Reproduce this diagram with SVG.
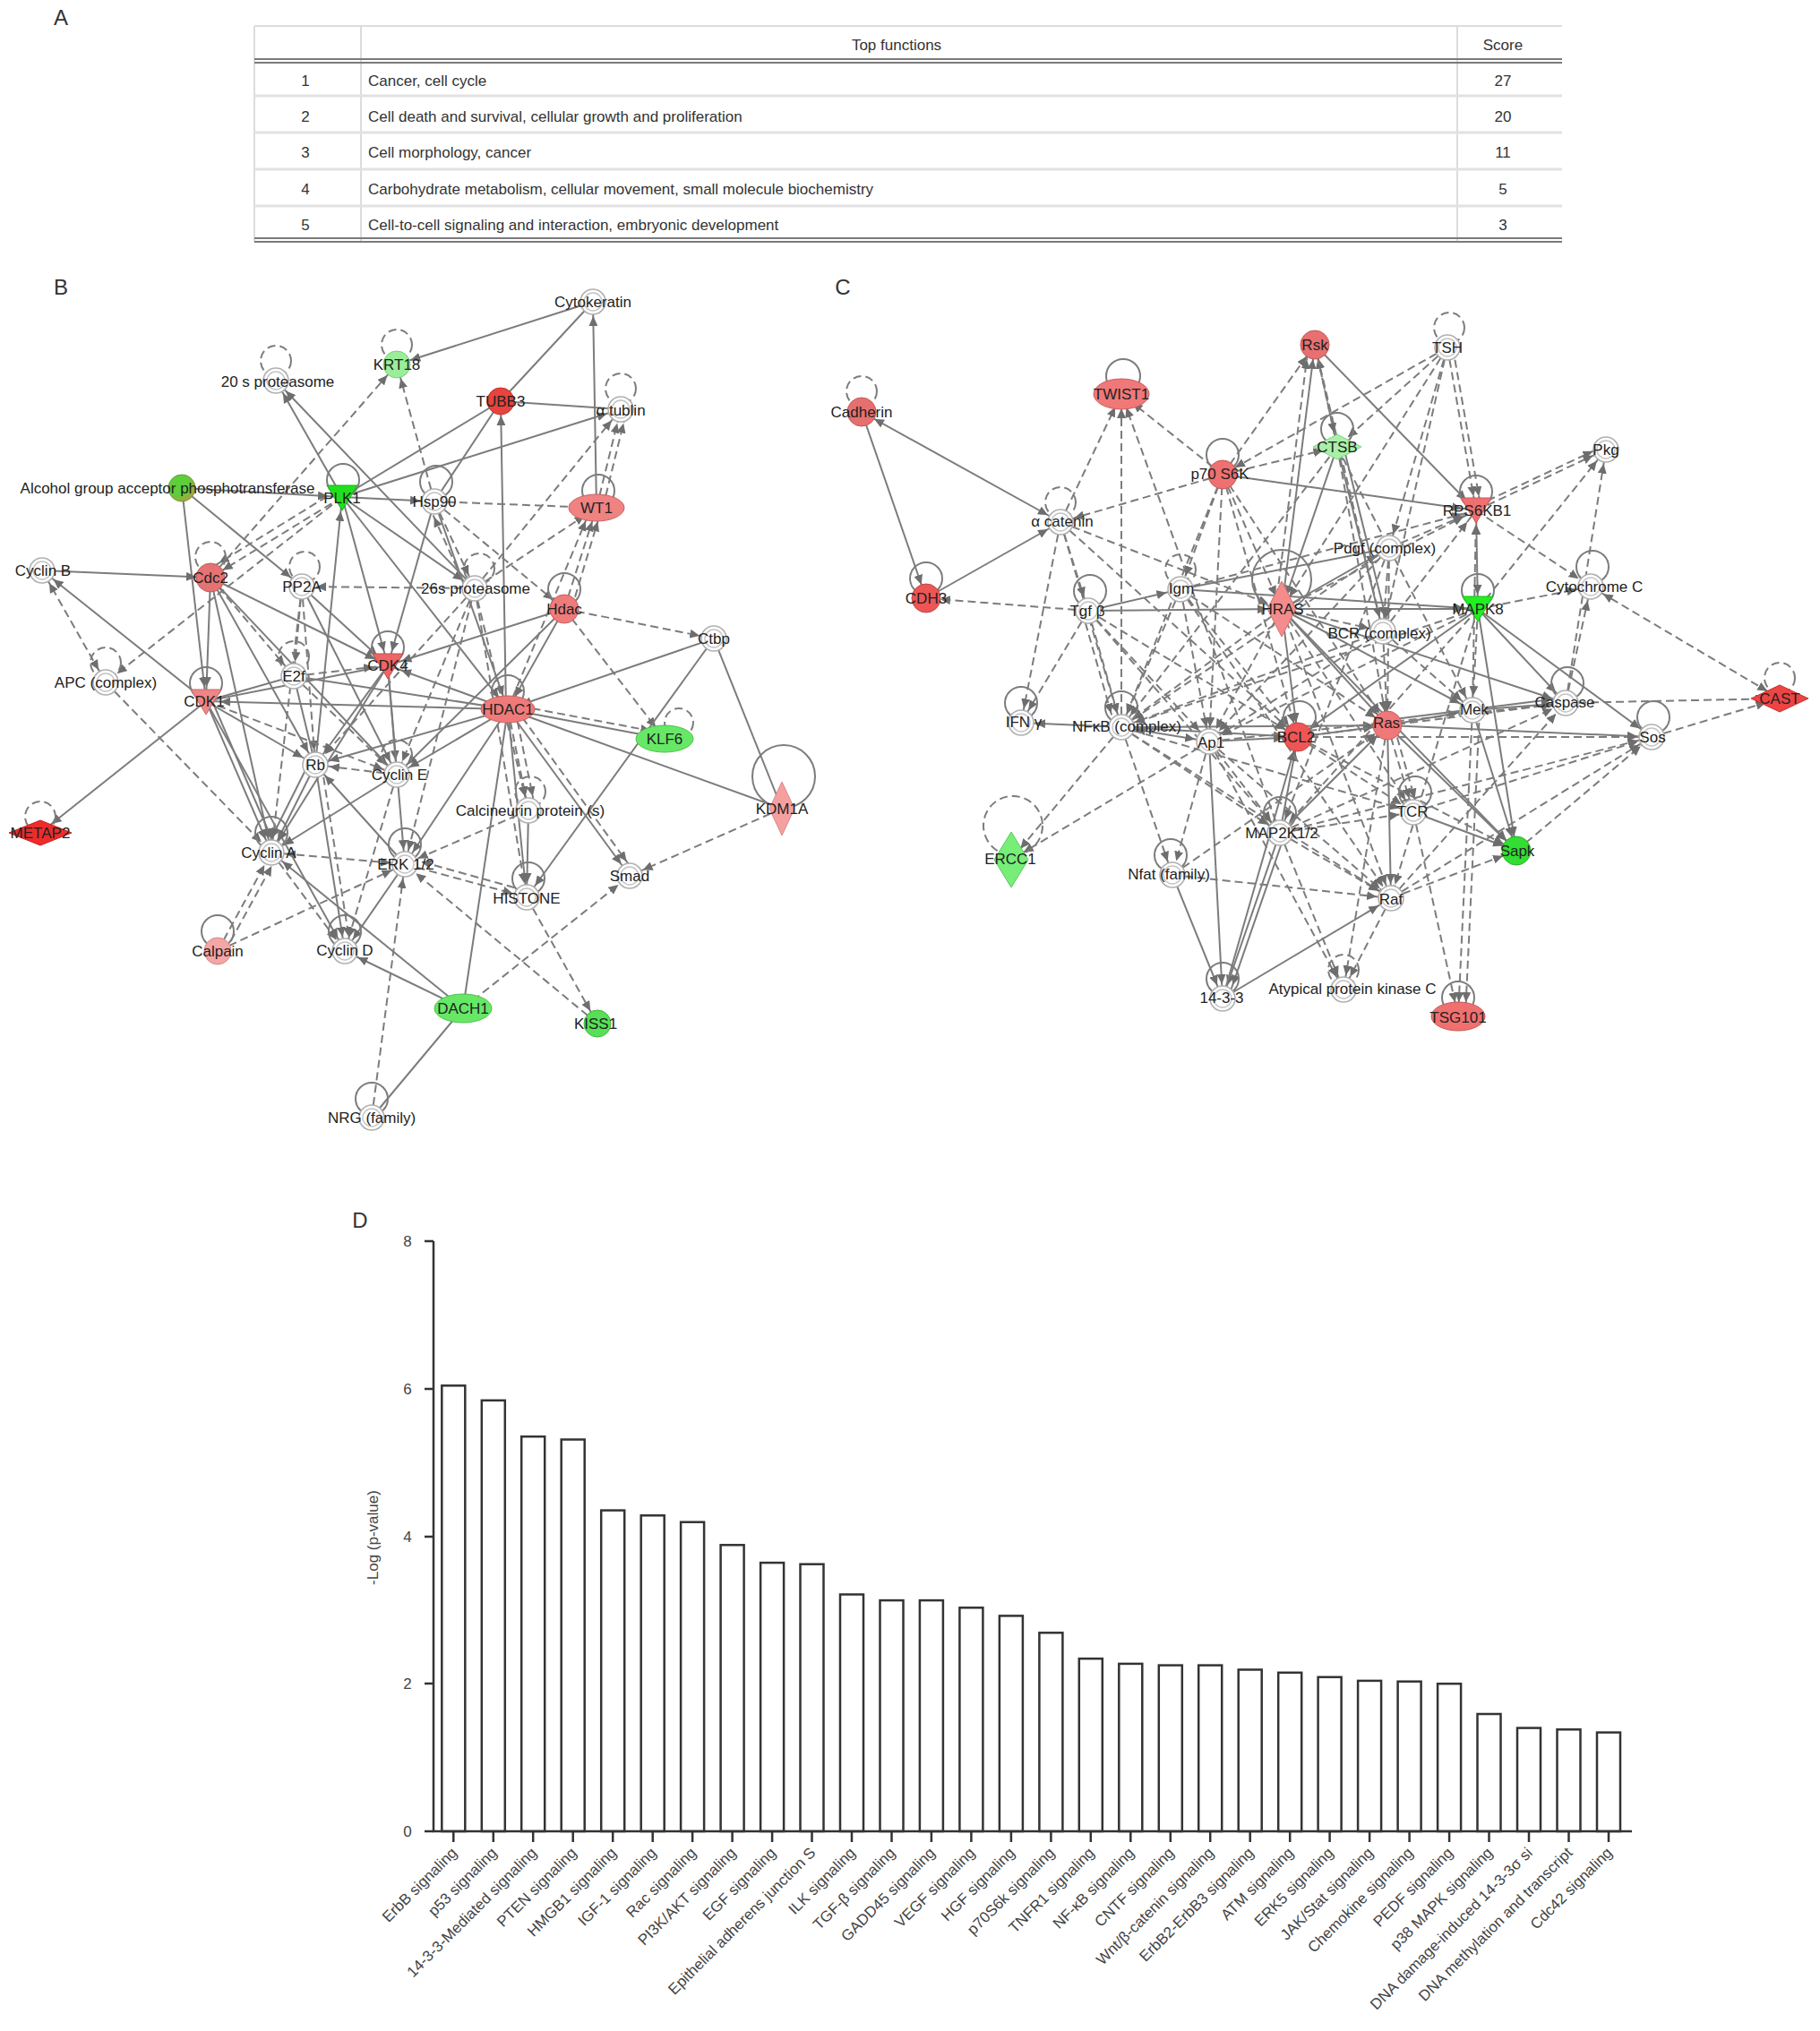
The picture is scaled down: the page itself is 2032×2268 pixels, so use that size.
<svg xmlns="http://www.w3.org/2000/svg" width="2032" height="2268" viewBox="0 0 2032 2268">
<style>
text{font-family:"Liberation Sans",Arial,sans-serif;fill:#222}
.pl{font-size:24px;text-anchor:middle;dominant-baseline:central;fill:#333}
.tb{font-size:17px;fill:#333}
.tc{text-anchor:middle}
.t{font-size:17px;text-anchor:middle;dominant-baseline:central}
.e line{stroke:#7c7c7c;stroke-width:2;fill:none}
.a{marker-end:url(#ar)}
.b{marker-end:url(#ar);marker-start:url(#ar)}
.d{stroke-dasharray:9 5}
.lp{fill:none;stroke:#7c7c7c;stroke-width:2}
.w{fill:#fff;stroke:#b0b0b0;stroke-width:1.6}
.wi{fill:none;stroke:#c4c4c4;stroke-width:1.4}
.bar{fill:#fff;stroke:#333;stroke-width:2.5}
.ax{stroke:#333;stroke-width:2.5;fill:none}
.cl{font-size:17px;fill:#444;text-anchor:end}
.tk{font-size:17px;fill:#444;text-anchor:middle;dominant-baseline:central}
</style>
<defs>
<marker id="ar" markerWidth="30" markerHeight="10" refX="27" refY="5" orient="auto-start-reverse" markerUnits="userSpaceOnUse"><path d="M0,0 L11,5 L0,10 z" fill="#6e6e6e"/></marker>
<radialGradient id="alc" cx="0.35" cy="0.35" r="0.75"><stop offset="0.55" stop-color="#5ccf3a"/><stop offset="1" stop-color="#c9913f"/></radialGradient>
</defs>
<rect width="2032" height="2268" fill="#fff"/>

<!-- Panel A table -->
<g id="panelA">
<text class="pl" x="68" y="19">A</text>
<line x1="284" y1="29" x2="1744" y2="29" stroke="#dcdcdc" stroke-width="2"/>
<line x1="284" y1="29" x2="284" y2="270" stroke="#dcdcdc" stroke-width="2"/>
<line x1="403" y1="29" x2="403" y2="270" stroke="#dcdcdc" stroke-width="2"/>
<line x1="1627" y1="29" x2="1627" y2="270" stroke="#dcdcdc" stroke-width="2"/>
<line x1="284" y1="66" x2="1744" y2="66" stroke="#7a7a7a" stroke-width="2"/>
<line x1="284" y1="70" x2="1744" y2="70" stroke="#7a7a7a" stroke-width="2"/>
<line x1="284" y1="107" x2="1744" y2="107" stroke="#e2e2e2" stroke-width="3"/>
<line x1="284" y1="148" x2="1744" y2="148" stroke="#e2e2e2" stroke-width="3"/>
<line x1="284" y1="189" x2="1744" y2="189" stroke="#e2e2e2" stroke-width="3"/>
<line x1="284" y1="230" x2="1744" y2="230" stroke="#e2e2e2" stroke-width="3"/>
<line x1="284" y1="266" x2="1744" y2="266" stroke="#7a7a7a" stroke-width="2"/>
<line x1="284" y1="270" x2="1744" y2="270" stroke="#7a7a7a" stroke-width="2"/>
<text class="tb tc" x="1001" y="56">Top functions</text>
<text class="tb tc" x="1678" y="56">Score</text>
<text class="tb tc" x="341" y="96">1</text><text class="tb" x="411" y="96">Cancer, cell cycle</text><text class="tb tc" x="1678" y="96">27</text>
<text class="tb tc" x="341" y="136">2</text><text class="tb" x="411" y="136">Cell death and survival, cellular growth and proliferation</text><text class="tb tc" x="1678" y="136">20</text>
<text class="tb tc" x="341" y="176">3</text><text class="tb" x="411" y="176">Cell morphology, cancer</text><text class="tb tc" x="1678" y="176">11</text>
<text class="tb tc" x="341" y="217">4</text><text class="tb" x="411" y="217">Carbohydrate metabolism, cellular movement, small molecule biochemistry</text><text class="tb tc" x="1678" y="217">5</text>
<text class="tb tc" x="341" y="257">5</text><text class="tb" x="411" y="257">Cell-to-cell signaling and interaction, embryonic development</text><text class="tb tc" x="1678" y="257">3</text>
</g>

<text class="pl" x="68" y="320">B</text>
<text class="pl" x="941" y="320">C</text>

<!-- Connectors B -->
<g id="connectorsB" class="e">
<line class="a" x1="662" y1="337" x2="443" y2="407"/>
<line x1="662" y1="337" x2="559" y2="448"/>
<line class="a" x1="666" y1="567" x2="662" y2="337"/>
<line x1="559" y1="448" x2="693" y2="457"/>
<line class="a" x1="565" y1="792" x2="559" y2="448"/>
<line x1="382" y1="555" x2="559" y2="448"/>
<line class="a" x1="382" y1="555" x2="693" y2="457"/>
<line x1="485" y1="560" x2="559" y2="448"/>
<line class="a" x1="382" y1="555" x2="308" y2="425"/>
<line class="a" x1="530" y1="657" x2="308" y2="425"/>
<line class="a" x1="203" y1="545" x2="382" y2="555"/>
<line class="a" x1="203" y1="545" x2="230" y2="783"/>
<line class="a" x1="203" y1="545" x2="337" y2="655"/>
<line class="a" x1="47" y1="637" x2="235" y2="645"/>
<line class="a" x1="230" y1="783" x2="47" y2="637"/>
<line class="b d" x1="118" y1="762" x2="47" y2="637"/>
<line class="a d" x1="382" y1="555" x2="118" y2="762"/>
<line class="a d" x1="382" y1="555" x2="235" y2="645"/>
<line class="a d" x1="377" y1="547" x2="231" y2="637"/>
<line class="a d" x1="235" y1="645" x2="443" y2="407"/>
<line class="a" x1="352" y1="854" x2="382" y2="555"/>
<line class="a" x1="382" y1="555" x2="433" y2="743"/>
<line class="a" x1="382" y1="555" x2="485" y2="560"/>
<line class="a" x1="382" y1="555" x2="530" y2="657"/>
<line class="a" x1="382" y1="555" x2="567" y2="792"/>
<line class="a" x1="235" y1="645" x2="230" y2="783"/>
<line class="a" x1="235" y1="645" x2="352" y2="854"/>
<line class="a" x1="235" y1="645" x2="303" y2="952"/>
<line class="a" x1="235" y1="645" x2="433" y2="743"/>
<line class="a d" x1="235" y1="645" x2="328" y2="755"/>
<line class="a" x1="235" y1="645" x2="443" y2="865"/>
<line class="a d" x1="530" y1="657" x2="337" y2="655"/>
<line class="a d" x1="337" y1="655" x2="328" y2="755"/>
<line class="a d" x1="337" y1="655" x2="352" y2="854"/>
<line class="a" x1="337" y1="655" x2="443" y2="865"/>
<line class="a" x1="337" y1="655" x2="433" y2="743"/>
<line class="a d" x1="485" y1="560" x2="666" y2="567"/>
<line class="a d" x1="485" y1="560" x2="530" y2="657"/>
<line class="a d" x1="522" y1="660" x2="478" y2="563"/>
<line class="a d" x1="485" y1="560" x2="443" y2="407"/>
<line class="a" x1="485" y1="560" x2="433" y2="743"/>
<line class="a" x1="485" y1="560" x2="567" y2="792"/>
<line class="a d" x1="530" y1="657" x2="666" y2="567"/>
<line class="a d" x1="530" y1="657" x2="693" y2="457"/>
<line class="a d" x1="630" y1="680" x2="666" y2="567"/>
<line class="a d" x1="638" y1="680" x2="672" y2="567"/>
<line class="a d" x1="567" y1="792" x2="660" y2="567"/>
<line class="a d" x1="630" y1="680" x2="797" y2="713"/>
<line class="a d" x1="485" y1="560" x2="630" y2="680"/>
<line class="a" x1="630" y1="680" x2="567" y2="792"/>
<line class="a" x1="630" y1="680" x2="433" y2="743"/>
<line class="a d" x1="630" y1="680" x2="742" y2="825"/>
<line class="a" x1="797" y1="713" x2="567" y2="792"/>
<line x1="797" y1="713" x2="873" y2="903"/>
<line class="a" x1="797" y1="713" x2="588" y2="1002"/>
<line class="a" x1="567" y1="792" x2="742" y2="825"/>
<line class="a d" x1="567" y1="786" x2="742" y2="819"/>
<line x1="567" y1="792" x2="873" y2="903"/>
<line class="a d" x1="567" y1="792" x2="590" y2="905"/>
<line class="a d" x1="575" y1="792" x2="598" y2="905"/>
<line class="a" x1="567" y1="792" x2="588" y2="1002"/>
<line class="a" x1="567" y1="792" x2="703" y2="978"/>
<line class="a d" x1="575" y1="790" x2="709" y2="975"/>
<line x1="567" y1="792" x2="517" y2="1126"/>
<line class="a" x1="567" y1="792" x2="452" y2="965"/>
<line class="a" x1="567" y1="792" x2="230" y2="783"/>
<line class="a" x1="567" y1="792" x2="352" y2="854"/>
<line class="a" x1="567" y1="792" x2="443" y2="865"/>
<line class="a" x1="567" y1="792" x2="433" y2="743"/>
<line x1="567" y1="792" x2="328" y2="755"/>
<line class="a d" x1="873" y1="903" x2="703" y2="978"/>
<line class="a d" x1="590" y1="905" x2="452" y2="965"/>
<line class="a" x1="590" y1="905" x2="588" y2="1002"/>
<line class="a d" x1="452" y1="965" x2="588" y2="1002"/>
<line class="a d" x1="588" y1="995" x2="455" y2="958"/>
<line class="a d" x1="667" y1="1143" x2="452" y2="965"/>
<line class="a d" x1="588" y1="1002" x2="667" y2="1143"/>
<line class="a d" x1="517" y1="1126" x2="703" y2="978"/>
<line x1="517" y1="1126" x2="415" y2="1248"/>
<line class="a" x1="517" y1="1126" x2="303" y2="952"/>
<line class="a" x1="517" y1="1126" x2="385" y2="1062"/>
<line class="a d" x1="415" y1="1248" x2="452" y2="965"/>
<line class="a d" x1="243" y1="1062" x2="303" y2="952"/>
<line class="a d" x1="251" y1="1063" x2="311" y2="953"/>
<line class="a d" x1="243" y1="1062" x2="452" y2="965"/>
<line class="a" x1="230" y1="783" x2="303" y2="952"/>
<line class="a" x1="237" y1="783" x2="310" y2="952"/>
<line class="a" x1="352" y1="854" x2="303" y2="952"/>
<line class="a" x1="345" y1="852" x2="296" y2="950"/>
<line class="a" x1="443" y1="865" x2="303" y2="952"/>
<line class="b d" x1="303" y1="952" x2="452" y2="965"/>
<line class="a d" x1="118" y1="762" x2="303" y2="952"/>
<line class="a" x1="230" y1="783" x2="45" y2="930"/>
<line class="a" x1="230" y1="783" x2="352" y2="854"/>
<line class="a d" x1="230" y1="783" x2="443" y2="865"/>
<line class="a" x1="230" y1="783" x2="385" y2="1062"/>
<line x1="230" y1="783" x2="328" y2="755"/>
<line x1="230" y1="783" x2="433" y2="743"/>
<line class="a d" x1="443" y1="865" x2="352" y2="854"/>
<line class="a" x1="452" y1="965" x2="352" y2="854"/>
<line class="a" x1="352" y1="854" x2="385" y2="1062"/>
<line class="a d" x1="359" y1="854" x2="392" y2="1062"/>
<line class="a" x1="452" y1="965" x2="385" y2="1062"/>
<line class="a d" x1="443" y1="865" x2="385" y2="1062"/>
<line x1="328" y1="755" x2="352" y2="854"/>
<line class="a d" x1="328" y1="755" x2="433" y2="743"/>
<line class="a d" x1="328" y1="755" x2="443" y2="865"/>
<line class="a" x1="433" y1="743" x2="352" y2="854"/>
<line class="a" x1="433" y1="743" x2="443" y2="865"/>
<line class="a" x1="433" y1="743" x2="303" y2="952"/>
<line class="a" x1="433" y1="743" x2="452" y2="965"/>
<line class="a d" x1="530" y1="657" x2="352" y2="854"/>
<line class="a d" x1="530" y1="657" x2="443" y2="865"/>
<line class="a d" x1="530" y1="657" x2="452" y2="965"/>
<line class="a d" x1="530" y1="657" x2="588" y2="1002"/>
<line class="a d" x1="530" y1="657" x2="590" y2="905"/>
<line class="a d" x1="666" y1="567" x2="693" y2="457"/>
<line class="a d" x1="673" y1="567" x2="700" y2="457"/>
<line class="a d" x1="303" y1="952" x2="385" y2="1062"/>
<line class="a" x1="630" y1="680" x2="443" y2="865"/>
<line class="a d" x1="337" y1="655" x2="303" y2="952"/>
</g>

<!-- Connectors C -->
<g id="connectorsC" class="e">
<line class="b" x1="962" y1="460" x2="1184" y2="583"/>
<line class="a" x1="962" y1="460" x2="1034" y2="668"/>
<line class="a" x1="1034" y1="668" x2="1184" y2="583"/>
<line class="a d" x1="1215" y1="682" x2="1034" y2="668"/>
<line class="a d" x1="1184" y1="583" x2="1252" y2="440"/>
<line class="a d" x1="1252" y1="812" x2="1252" y2="440"/>
<line class="a d" x1="1429" y1="930" x2="1252" y2="440"/>
<line class="a d" x1="1365" y1="530" x2="1252" y2="440"/>
<line class="a" x1="1468" y1="385" x2="1648" y2="570"/>
<line class="a" x1="1431" y1="680" x2="1468" y2="385"/>
<line class="a d" x1="1365" y1="530" x2="1468" y2="385"/>
<line class="a d" x1="1493" y1="499" x2="1468" y2="385"/>
<line class="a d" x1="1544" y1="705" x2="1468" y2="385"/>
<line class="a d" x1="1424" y1="680" x2="1461" y2="385"/>
<line class="a d" x1="1616" y1="388" x2="1493" y2="499"/>
<line class="a d" x1="1616" y1="388" x2="1648" y2="570"/>
<line class="a d" x1="1622" y1="388" x2="1654" y2="570"/>
<line class="a d" x1="1616" y1="388" x2="1431" y2="680"/>
<line class="a d" x1="1616" y1="388" x2="1551" y2="612"/>
<line class="a d" x1="1616" y1="388" x2="1365" y2="530"/>
<line class="b" x1="1648" y1="570" x2="1650" y2="680"/>
<line class="a d" x1="1648" y1="570" x2="1793" y2="502"/>
<line class="a d" x1="1648" y1="565" x2="1793" y2="497"/>
<line class="a d" x1="1648" y1="570" x2="1776" y2="655"/>
<line class="a" x1="1365" y1="530" x2="1648" y2="570"/>
<line class="a d" x1="1431" y1="680" x2="1648" y2="570"/>
<line class="a d" x1="1551" y1="612" x2="1648" y2="570"/>
<line class="a d" x1="1544" y1="705" x2="1648" y2="570"/>
<line class="a d" x1="1318" y1="658" x2="1648" y2="570"/>
<line class="a d" x1="1644" y1="793" x2="1648" y2="570"/>
<line class="a d" x1="1650" y1="680" x2="1793" y2="502"/>
<line class="a d" x1="1748" y1="785" x2="1793" y2="502"/>
<line class="a d" x1="1650" y1="680" x2="1776" y2="655"/>
<line class="a d" x1="1748" y1="785" x2="1776" y2="655"/>
<line class="b d" x1="1987" y1="780" x2="1776" y2="655"/>
<line class="a" x1="1431" y1="680" x2="1650" y2="680"/>
<line class="a" x1="1215" y1="682" x2="1318" y2="658"/>
<line class="a" x1="1215" y1="682" x2="1431" y2="680"/>
<line x1="1318" y1="658" x2="1551" y2="612"/>
<line class="a" x1="1318" y1="658" x2="1650" y2="680"/>
<line class="a" x1="1431" y1="680" x2="1551" y2="612"/>
<line class="a d" x1="1431" y1="680" x2="1544" y2="705"/>
<line class="a" x1="1252" y1="812" x2="1140" y2="807"/>
<line class="b" x1="1252" y1="812" x2="1350" y2="828"/>
<line class="a" x1="1252" y1="812" x2="1449" y2="823"/>
<line class="a" x1="1252" y1="812" x2="1549" y2="810"/>
<line class="a d" x1="1252" y1="812" x2="1129" y2="960"/>
<line class="a d" x1="1350" y1="828" x2="1129" y2="960"/>
<line class="a d" x1="1215" y1="682" x2="1252" y2="812"/>
<line class="a d" x1="1208" y1="682" x2="1245" y2="812"/>
<line class="a d" x1="1318" y1="658" x2="1252" y2="812"/>
<line class="a d" x1="1431" y1="680" x2="1252" y2="812"/>
<line class="a d" x1="1184" y1="583" x2="1252" y2="812"/>
<line class="a d" x1="1252" y1="812" x2="1309" y2="977"/>
<line class="a d" x1="1252" y1="812" x2="1429" y2="930"/>
<line class="a d" x1="1252" y1="812" x2="1578" y2="907"/>
<line class="a d" x1="1252" y1="812" x2="1553" y2="1003"/>
<line class="a" x1="1350" y1="828" x2="1449" y2="823"/>
<line class="a" x1="1350" y1="828" x2="1365" y2="1115"/>
<line class="a d" x1="1350" y1="828" x2="1309" y2="977"/>
<line class="a d" x1="1350" y1="828" x2="1429" y2="930"/>
<line class="a d" x1="1350" y1="828" x2="1500" y2="1105"/>
<line class="a" x1="1449" y1="823" x2="1549" y2="810"/>
<line class="a" x1="1431" y1="680" x2="1449" y2="823"/>
<line class="a" x1="1429" y1="930" x2="1449" y2="823"/>
<line class="a d" x1="1449" y1="823" x2="1578" y2="907"/>
<line class="a d" x1="1449" y1="823" x2="1844" y2="823"/>
<line class="a" x1="1549" y1="810" x2="1644" y2="793"/>
<line class="a" x1="1549" y1="810" x2="1844" y2="823"/>
<line class="a" x1="1644" y1="793" x2="1748" y2="785"/>
<line class="a" x1="1549" y1="804" x2="1748" y2="779"/>
<line class="a d" x1="1748" y1="785" x2="1987" y2="780"/>
<line class="a d" x1="1844" y1="823" x2="1987" y2="780"/>
<line class="a" x1="1644" y1="793" x2="1693" y2="950"/>
<line class="a" x1="1549" y1="810" x2="1693" y2="950"/>
<line class="a" x1="1549" y1="810" x2="1553" y2="1003"/>
<line class="a d" x1="1549" y1="810" x2="1578" y2="907"/>
<line class="a d" x1="1556" y1="810" x2="1584" y2="907"/>
<line class="a" x1="1578" y1="907" x2="1693" y2="950"/>
<line class="a d" x1="1578" y1="907" x2="1628" y2="1135"/>
<line class="a d" x1="1553" y1="1003" x2="1693" y2="950"/>
<line class="a d" x1="1553" y1="1003" x2="1844" y2="823"/>
<line class="a d" x1="1693" y1="950" x2="1844" y2="823"/>
<line class="a d" x1="1429" y1="930" x2="1844" y2="823"/>
<line class="a" x1="1650" y1="680" x2="1748" y2="785"/>
<line class="a" x1="1650" y1="680" x2="1693" y2="950"/>
<line class="a d" x1="1650" y1="680" x2="1644" y2="793"/>
<line class="a" x1="1650" y1="680" x2="1844" y2="823"/>
<line class="a" x1="1431" y1="680" x2="1748" y2="785"/>
<line class="a" x1="1431" y1="680" x2="1549" y2="810"/>
<line class="a" x1="1431" y1="680" x2="1644" y2="793"/>
<line class="a d" x1="1431" y1="680" x2="1578" y2="907"/>
<line class="a d" x1="1431" y1="680" x2="1553" y2="1003"/>
<line class="a" x1="1431" y1="680" x2="1693" y2="950"/>
<line class="a d" x1="1429" y1="930" x2="1553" y2="1003"/>
<line class="a" x1="1429" y1="930" x2="1365" y2="1115"/>
<line class="a" x1="1435" y1="930" x2="1371" y2="1115"/>
<line class="a d" x1="1429" y1="930" x2="1500" y2="1105"/>
<line class="a" x1="1309" y1="977" x2="1365" y2="1115"/>
<line class="a" x1="1365" y1="1115" x2="1553" y2="1003"/>
<line class="a" x1="1365" y1="1115" x2="1449" y2="823"/>
<line class="a d" x1="1553" y1="1003" x2="1500" y2="1105"/>
<line class="a d" x1="1644" y1="793" x2="1628" y2="1135"/>
<line class="a d" x1="1652" y1="793" x2="1636" y2="1135"/>
<line class="a d" x1="1431" y1="680" x2="1350" y2="828"/>
<line class="a d" x1="1318" y1="658" x2="1350" y2="828"/>
<line class="a d" x1="1215" y1="682" x2="1350" y2="828"/>
<line class="a d" x1="1318" y1="658" x2="1449" y2="823"/>
<line class="a d" x1="1318" y1="658" x2="1549" y2="810"/>
<line class="a d" x1="1318" y1="658" x2="1553" y2="1003"/>
<line class="a d" x1="1215" y1="682" x2="1429" y2="930"/>
<line class="a d" x1="1215" y1="682" x2="1449" y2="823"/>
<line class="a d" x1="1184" y1="583" x2="1215" y2="682"/>
<line class="a d" x1="1184" y1="583" x2="1431" y2="680"/>
<line class="a d" x1="1184" y1="583" x2="1449" y2="823"/>
<line class="a d" x1="1365" y1="530" x2="1318" y2="658"/>
<line class="a d" x1="1365" y1="530" x2="1252" y2="812"/>
<line class="a d" x1="1365" y1="530" x2="1431" y2="680"/>
<line class="a d" x1="1365" y1="530" x2="1350" y2="828"/>
<line class="a d" x1="1365" y1="530" x2="1449" y2="823"/>
<line class="a d" x1="1365" y1="530" x2="1549" y2="810"/>
<line class="a d" x1="1365" y1="530" x2="1184" y2="583"/>
<line class="a d" x1="1365" y1="530" x2="1493" y2="499"/>
<line class="a d" x1="1551" y1="612" x2="1544" y2="705"/>
<line class="a d" x1="1551" y1="612" x2="1350" y2="828"/>
<line class="a d" x1="1551" y1="612" x2="1549" y2="810"/>
<line class="a d" x1="1551" y1="612" x2="1429" y2="930"/>
<line class="a d" x1="1551" y1="612" x2="1252" y2="812"/>
<line class="a d" x1="1544" y1="705" x2="1549" y2="810"/>
<line class="a d" x1="1544" y1="705" x2="1350" y2="828"/>
<line class="a d" x1="1544" y1="705" x2="1252" y2="812"/>
<line class="a d" x1="1544" y1="705" x2="1644" y2="793"/>
<line class="a" x1="1493" y1="499" x2="1431" y2="680"/>
<line class="a" x1="1493" y1="499" x2="1544" y2="705"/>
<line class="a" x1="1500" y1="499" x2="1551" y2="705"/>
<line class="a d" x1="1493" y1="499" x2="1549" y2="810"/>
<line class="a d" x1="1493" y1="499" x2="1252" y2="812"/>
<line class="a d" x1="1468" y1="385" x2="1493" y2="499"/>
<line class="a d" x1="1650" y1="680" x2="1350" y2="828"/>
<line class="a d" x1="1650" y1="680" x2="1252" y2="812"/>
<line class="a" x1="1650" y1="680" x2="1449" y2="823"/>
<line class="a d" x1="1650" y1="680" x2="1429" y2="930"/>
<line class="a d" x1="1650" y1="680" x2="1553" y2="1003"/>
<line class="a d" x1="1215" y1="682" x2="1140" y2="807"/>
<line class="a d" x1="1184" y1="583" x2="1140" y2="807"/>
<line class="a d" x1="1553" y1="1003" x2="1748" y2="785"/>
<line class="a d" x1="1429" y1="930" x2="1748" y2="785"/>
<line class="a d" x1="1449" y1="823" x2="1748" y2="785"/>
<line class="a d" x1="1350" y1="828" x2="1748" y2="785"/>
<line class="a" x1="1429" y1="930" x2="1549" y2="810"/>
<line class="a d" x1="1429" y1="930" x2="1578" y2="907"/>
<line class="a d" x1="1578" y1="907" x2="1844" y2="823"/>
<line class="a d" x1="1449" y1="823" x2="1693" y2="950"/>
<line class="a d" x1="1350" y1="828" x2="1553" y2="1003"/>
<line class="a d" x1="1309" y1="977" x2="1549" y2="810"/>
<line class="a d" x1="1309" y1="977" x2="1553" y2="1003"/>
<line class="a d" x1="1549" y1="810" x2="1500" y2="1105"/>
<line class="a d" x1="1616" y1="388" x2="1544" y2="705"/>
<line class="a d" x1="1493" y1="499" x2="1644" y2="793"/>
</g>

<!-- Nodes B -->
<g id="n-20s"><circle class="lp d" cx="308" cy="403" r="17"/><circle class="w" cx="308" cy="425" r="14"/><circle class="wi" cx="308" cy="425" r="10"/><text class="t" x="310" y="426">20 s proteasome</text></g>
<g id="n-KRT18"><circle class="lp d" cx="443" cy="385" r="17"/><circle cx="443" cy="407" r="15" fill="#9aee9a" stroke="#7acc7a"/><text class="t" x="443" y="407">KRT18</text></g>
<g id="n-Cytokeratin"><circle class="w" cx="662" cy="337" r="14"/><circle class="wi" cx="662" cy="337" r="10"/><text class="t" x="662" y="337">Cytokeratin</text></g>
<g id="n-TUBB3"><circle cx="559" cy="448" r="15" fill="#e8433c" stroke="#c03030"/><text class="t" x="559" y="448">TUBB3</text></g>
<g id="n-tublin"><circle class="lp d" cx="693" cy="434" r="17"/><circle class="w" cx="693" cy="457" r="14"/><circle class="wi" cx="693" cy="457" r="10"/><text class="t" x="693" y="458">α tublin</text></g>
<g id="n-Alcohol"><circle cx="203" cy="545" r="15" fill="url(#alc)" stroke="#6a9a3a"/><text class="t" x="187" y="545">Alcohol group acceptor phosphotransferase</text></g>
<g id="n-PLK1"><circle class="lp" cx="383" cy="536" r="18"/><polygon points="365,542 399,542 382,570" fill="#1fe01f" stroke="#18b018"/><text class="t" x="382" y="556">PLK1</text></g>
<g id="n-Hsp90"><circle class="lp" cx="487" cy="538" r="18"/><circle class="w" cx="485" cy="560" r="14"/><circle class="wi" cx="485" cy="560" r="10"/><text class="t" x="485" y="560">Hsp90</text></g>
<g id="n-WT1"><circle class="lp" cx="668" cy="548" r="18"/><ellipse cx="666" cy="567" rx="31" ry="15" fill="#f08282" stroke="#c86262"/><text class="t" x="666" y="567">WT1</text></g>
<g id="n-CyclinB"><circle class="w" cx="47" cy="637" r="14"/><circle class="wi" cx="47" cy="637" r="10"/><text class="t" x="48" y="637">Cyclin B</text></g>
<g id="n-Cdc2"><circle class="lp d" cx="235" cy="622" r="17"/><circle cx="235" cy="645" r="16" fill="#e57373" stroke="#c05a5a"/><text class="t" x="235" y="645">Cdc2</text></g>
<g id="n-PP2A"><circle class="lp d" cx="340" cy="633" r="17"/><circle class="w" cx="337" cy="655" r="14"/><circle class="wi" cx="337" cy="655" r="10"/><text class="t" x="337" y="655">PP2A</text></g>
<g id="n-26s"><circle class="lp d" cx="535" cy="635" r="17"/><circle class="w" cx="530" cy="657" r="14"/><circle class="wi" cx="530" cy="657" r="10"/><text class="t" x="531" y="657">26s proteasome</text></g>
<g id="n-Hdac"><circle class="lp" cx="630" cy="658" r="18"/><circle cx="630" cy="680" r="16" fill="#ef7b7b" stroke="#c86060"/><text class="t" x="630" y="680">Hdac</text></g>
<g id="n-Ctbp"><circle class="w" cx="797" cy="713" r="14"/><circle class="wi" cx="797" cy="713" r="10"/><text class="t" x="797" y="713">Ctbp</text></g>
<g id="n-APC"><circle class="lp d" cx="118" cy="740" r="17"/><circle class="w" cx="118" cy="762" r="14"/><circle class="wi" cx="118" cy="762" r="10"/><text class="t" x="118" y="762">APC (complex)</text></g>
<g id="n-CDK1"><circle class="lp" cx="230" cy="763" r="18"/><polygon points="213,770 247,770 230,798" fill="#f08585" stroke="#c86a6a"/><text class="t" x="228" y="783">CDK1</text></g>
<g id="n-E2f"><circle class="lp d" cx="328" cy="733" r="17"/><circle class="w" cx="328" cy="755" r="14"/><circle class="wi" cx="328" cy="755" r="10"/><text class="t" x="328" y="755">E2f</text></g>
<g id="n-CDK4"><circle class="lp" cx="433" cy="723" r="18"/><polygon points="416,730 450,730 433,758" fill="#ee6565" stroke="#c05050"/><text class="t" x="433" y="743">CDK4</text></g>
<g id="n-HDAC1"><circle class="lp" cx="567" cy="772" r="18"/><ellipse cx="567" cy="792" rx="30" ry="15" fill="#f07a7a" stroke="#c86060"/><text class="t" x="567" y="792">HDAC1</text></g>
<g id="n-KLF6"><circle class="lp d" cx="758" cy="807" r="16"/><ellipse cx="742" cy="825" rx="32" ry="15" fill="#66e866" stroke="#4cc04c"/><text class="t" x="742" y="825">KLF6</text></g>
<g id="n-Rb"><circle class="w" cx="352" cy="854" r="14"/><circle class="wi" cx="352" cy="854" r="10"/><text class="t" x="352" y="854">Rb</text></g>
<g id="n-CyclinE"><circle class="lp d" cx="443" cy="843" r="17"/><circle class="w" cx="443" cy="865" r="14"/><circle class="wi" cx="443" cy="865" r="10"/><text class="t" x="446" y="865">Cyclin E</text></g>
<g id="n-KDM1A"><circle class="lp" cx="875" cy="867" r="35"/><polygon points="873,873 887,903 873,933 859,903" fill="#f5a0a0" stroke="#d88888"/><text class="t" x="873" y="903">KDM1A</text></g>
<g id="n-Calcineurin"><circle class="lp d" cx="592" cy="884" r="17"/><circle class="w" cx="590" cy="905" r="14"/><circle class="wi" cx="590" cy="905" r="10"/><text class="t" x="592" y="905">Calcineurin protein (s)</text></g>
<g id="n-METAP2"><circle class="lp d" cx="45" cy="912" r="17"/><polygon points="10,930 45,916 80,930 45,944" fill="#ee2b2b" stroke="#c02020"/><text class="t" x="45" y="930">METAP2</text></g>
<g id="n-CyclinA"><circle class="lp" cx="303" cy="930" r="18"/><circle class="w" cx="303" cy="952" r="14"/><circle class="wi" cx="303" cy="952" r="10"/><text class="t" x="300" y="952">Cyclin A</text></g>
<g id="n-ERK"><circle class="lp" cx="452" cy="943" r="18"/><circle class="w" cx="452" cy="965" r="14"/><circle class="wi" cx="452" cy="965" r="10"/><text class="t" x="453" y="965">ERK 1/2</text></g>
<g id="n-Smad"><circle class="w" cx="703" cy="978" r="14"/><circle class="wi" cx="703" cy="978" r="10"/><text class="t" x="703" y="978">Smad</text></g>
<g id="n-HISTONE"><circle class="lp" cx="590" cy="981" r="18"/><circle class="w" cx="588" cy="1002" r="14"/><circle class="wi" cx="588" cy="1002" r="10"/><text class="t" x="588" y="1003">HISTONE</text></g>
<g id="n-Calpain"><circle class="lp" cx="243" cy="1040" r="18"/><circle cx="243" cy="1062" r="15" fill="#f4a5a5" stroke="#d48a8a"/><text class="t" x="243" y="1062">Calpain</text></g>
<g id="n-CyclinD"><circle class="lp" cx="385" cy="1040" r="18"/><circle class="w" cx="385" cy="1062" r="14"/><circle class="wi" cx="385" cy="1062" r="10"/><text class="t" x="385" y="1061">Cyclin D</text></g>
<g id="n-DACH1"><ellipse cx="517" cy="1126" rx="32" ry="16" fill="#66e866" stroke="#4cc04c"/><text class="t" x="517" y="1126">DACH1</text></g>
<g id="n-KISS1"><circle cx="667" cy="1143" r="15" fill="#55e055" stroke="#40b840"/><text class="t" x="665" y="1143">KISS1</text></g>
<g id="n-NRG"><circle class="lp" cx="415" cy="1227" r="18"/><circle class="w" cx="415" cy="1248" r="14"/><circle class="wi" cx="415" cy="1248" r="10"/><text class="t" x="415" y="1248">NRG (family)</text></g>

<!-- Nodes C -->
<g id="n-Cadherin"><circle class="lp d" cx="962" cy="437" r="17"/><circle cx="962" cy="460" r="16" fill="#e57070" stroke="#c05858"/><text class="t" x="962" y="460">Cadherin</text></g>
<g id="n-TWIST1"><circle class="lp" cx="1254" cy="420" r="19"/><ellipse cx="1252" cy="440" rx="31" ry="17" fill="#f07878" stroke="#c86060"/><text class="t" x="1252" y="440">TWIST1</text></g>
<g id="n-Rsk"><circle cx="1468" cy="385" r="16" fill="#e87070" stroke="#c05858"/><text class="t" x="1468" y="385">Rsk</text></g>
<g id="n-TSH"><circle class="lp d" cx="1618" cy="366" r="17"/><circle class="w" cx="1616" cy="388" r="14"/><circle class="wi" cx="1616" cy="388" r="10"/><text class="t" x="1616" y="388">TSH</text></g>
<g id="n-CTSB"><circle class="lp" cx="1493" cy="479" r="18"/><polygon points="1466,499 1493,485 1520,499 1493,513" fill="#a8f0a8" stroke="#88cc88"/><text class="t" x="1493" y="499">CTSB</text></g>
<g id="n-Pkg"><circle class="w" cx="1793" cy="502" r="14"/><circle class="wi" cx="1793" cy="502" r="10"/><text class="t" x="1793" y="502">Pkg</text></g>
<g id="n-p70S6K"><circle class="lp" cx="1365" cy="508" r="18"/><circle cx="1365" cy="530" r="16" fill="#ee7070" stroke="#c85858"/><text class="t" x="1362" y="529">p70 S6K</text></g>
<g id="n-acatenin"><circle class="lp d" cx="1184" cy="561" r="17"/><circle class="w" cx="1184" cy="583" r="14"/><circle class="wi" cx="1184" cy="583" r="10"/><text class="t" x="1186" y="582">α catenin</text></g>
<g id="n-RPS6KB1"><circle class="lp" cx="1648" cy="549" r="18"/><polygon points="1631,556 1665,556 1648,584" fill="#f07070" stroke="#c85858"/><text class="t" x="1649" y="570">RPS6KB1</text></g>
<g id="n-Pdgf"><circle class="w" cx="1551" cy="612" r="14"/><circle class="wi" cx="1551" cy="612" r="10"/><text class="t" x="1546" y="612">Pdgf (complex)</text></g>
<g id="n-CytC"><circle class="lp" cx="1778" cy="633" r="18"/><circle class="w" cx="1776" cy="655" r="14"/><circle class="wi" cx="1776" cy="655" r="10"/><text class="t" x="1780" y="655">Cytochrome C</text></g>
<g id="n-CDH3"><circle class="lp" cx="1034" cy="646" r="18"/><circle cx="1034" cy="668" r="16" fill="#ee5555" stroke="#c04444"/><text class="t" x="1034" y="668">CDH3</text></g>
<g id="n-Tgfb"><circle class="lp" cx="1217" cy="660" r="18"/><circle class="w" cx="1215" cy="682" r="14"/><circle class="wi" cx="1215" cy="682" r="10"/><text class="t" x="1214" y="682">Tgf β</text></g>
<g id="n-Igm"><circle class="lp d" cx="1318" cy="636" r="17"/><circle class="w" cx="1318" cy="658" r="14"/><circle class="wi" cx="1318" cy="658" r="10"/><text class="t" x="1319" y="657">Igm</text></g>
<g id="n-HRAS"><circle class="lp" cx="1431" cy="647" r="33"/><polygon points="1431,649 1447,680 1431,711 1415,680" fill="#f58c8c" stroke="#d07070"/><text class="t" x="1432" y="680">HRAS</text></g>
<g id="n-MAPK8"><circle class="lp" cx="1650" cy="659" r="18"/><polygon points="1633,666 1667,666 1650,694" fill="#22ee22" stroke="#18c018"/><text class="t" x="1650" y="680">MAPK8</text></g>
<g id="n-BCR"><circle class="w" cx="1544" cy="705" r="14"/><circle class="wi" cx="1544" cy="705" r="10"/><text class="t" x="1540" y="707">BCR (complex)</text></g>
<g id="n-CAST"><circle class="lp d" cx="1987" cy="757" r="17"/><polygon points="1955,780 1987,765 2019,780 1987,795" fill="#ee4444" stroke="#c03434"/><text class="t" x="1987" y="780">CAST</text></g>
<g id="n-Caspase"><circle class="lp" cx="1750" cy="763" r="18"/><circle class="w" cx="1748" cy="785" r="14"/><circle class="wi" cx="1748" cy="785" r="10"/><text class="t" x="1747" y="784">Caspase</text></g>
<g id="n-Mek"><circle class="w" cx="1644" cy="793" r="14"/><circle class="wi" cx="1644" cy="793" r="10"/><text class="t" x="1646" y="792">Mek</text></g>
<g id="n-IFN"><circle class="lp" cx="1140" cy="785" r="18"/><circle class="w" cx="1140" cy="807" r="14"/><circle class="wi" cx="1140" cy="807" r="10"/><text class="t" x="1143" y="806">IFN γ</text></g>
<g id="n-NFkB"><circle class="lp" cx="1252" cy="790" r="18"/><circle class="w" cx="1252" cy="812" r="14"/><circle class="wi" cx="1252" cy="812" r="10"/><text class="t" x="1258" y="811">NFκB (complex)</text></g>
<g id="n-Ap1"><circle class="w" cx="1350" cy="828" r="14"/><circle class="wi" cx="1350" cy="828" r="10"/><text class="t" x="1352" y="829">Ap1</text></g>
<g id="n-BCL2"><circle class="lp" cx="1451" cy="801" r="18"/><circle cx="1449" cy="823" r="16" fill="#f05555" stroke="#c84444"/><text class="t" x="1447" y="823">BCL2</text></g>
<g id="n-Ras"><circle cx="1549" cy="810" r="16" fill="#f07878" stroke="#c86060"/><text class="t" x="1548" y="807">Ras</text></g>
<g id="n-Sos"><circle class="lp" cx="1846" cy="801" r="18"/><circle class="w" cx="1844" cy="823" r="14"/><circle class="wi" cx="1844" cy="823" r="10"/><text class="t" x="1845" y="823">Sos</text></g>
<g id="n-TCR"><circle class="lp" cx="1580" cy="885" r="18"/><circle class="w" cx="1578" cy="907" r="14"/><circle class="wi" cx="1578" cy="907" r="10"/><text class="t" x="1577" y="906">TCR</text></g>
<g id="n-MAP2K"><circle class="lp" cx="1429" cy="908" r="18"/><circle class="w" cx="1429" cy="930" r="14"/><circle class="wi" cx="1429" cy="930" r="10"/><text class="t" x="1431" y="930">MAP2K1/2</text></g>
<g id="n-ERCC1"><circle class="lp d" cx="1131" cy="922" r="33"/><polygon points="1129,929 1148,960 1129,991 1110,960" fill="#77ee77" stroke="#5cc85c"/><text class="t" x="1128" y="959">ERCC1</text></g>
<g id="n-Sapk"><circle cx="1693" cy="950" r="16" fill="#33dd33" stroke="#28b028"/><text class="t" x="1694" y="950">Sapk</text></g>
<g id="n-Nfat"><circle class="lp" cx="1307" cy="955" r="18"/><circle class="w" cx="1309" cy="977" r="14"/><circle class="wi" cx="1309" cy="977" r="10"/><text class="t" x="1305" y="976">Nfat (family)</text></g>
<g id="n-Raf"><circle class="w" cx="1553" cy="1003" r="14"/><circle class="wi" cx="1553" cy="1003" r="10"/><text class="t" x="1553" y="1004">Raf</text></g>
<g id="n-1433"><circle class="lp" cx="1365" cy="1093" r="18"/><circle class="w" cx="1365" cy="1115" r="14"/><circle class="wi" cx="1365" cy="1115" r="10"/><text class="t" x="1364" y="1114">14-3-3</text></g>
<g id="n-Atypical"><circle class="lp d" cx="1500" cy="1083" r="17"/><circle class="w" cx="1500" cy="1105" r="14"/><circle class="wi" cx="1500" cy="1105" r="10"/><text class="t" x="1510" y="1104">Atypical protein kinase C</text></g>
<g id="n-TSG101"><circle class="lp" cx="1628" cy="1114" r="18"/><ellipse cx="1628" cy="1135" rx="30" ry="16" fill="#f07070" stroke="#c85858"/><text class="t" x="1628" y="1136">TSG101</text></g>

<!-- Panel D chart -->
<g id="panelD">
<text class="pl" x="402" y="1362">D</text>
<text class="tk" x="455" y="1386">8</text>
<text class="tk" x="455" y="1551">6</text>
<text class="tk" x="455" y="1716">4</text>
<text class="tk" x="455" y="1880">2</text>
<text class="tk" x="455" y="2045">0</text>
<path class="ax" d="M474,1386H484M474,1551H484M474,1716H484M474,1880H484M474,2045H484"/>
<text class="tk" transform="translate(416,1717) rotate(-90)">-Log (p-value)</text>
<g id="bars">
<rect class="bar" x="493.3" y="1547.3" width="26" height="497.7"/>
<rect class="bar" x="537.8" y="1563.8" width="26" height="481.2"/>
<rect class="bar" x="582.2" y="1604.2" width="26" height="440.8"/>
<rect class="bar" x="626.7" y="1607.5" width="26" height="437.5"/>
<rect class="bar" x="671.2" y="1686.6" width="26" height="358.4"/>
<rect class="bar" x="715.7" y="1692.3" width="26" height="352.7"/>
<rect class="bar" x="760.1" y="1699.7" width="26" height="345.3"/>
<rect class="bar" x="804.6" y="1725.3" width="26" height="319.7"/>
<rect class="bar" x="849.1" y="1745.1" width="26" height="299.9"/>
<rect class="bar" x="893.5" y="1746.7" width="26" height="298.3"/>
<rect class="bar" x="938" y="1780.5" width="26" height="264.5"/>
<rect class="bar" x="982.5" y="1787.1" width="26" height="257.9"/>
<rect class="bar" x="1026.9" y="1787.1" width="26" height="257.9"/>
<rect class="bar" x="1071.4" y="1795.3" width="26" height="249.7"/>
<rect class="bar" x="1115.9" y="1804.4" width="26" height="240.6"/>
<rect class="bar" x="1160.4" y="1823.3" width="26" height="221.7"/>
<rect class="bar" x="1204.8" y="1852.2" width="26" height="192.8"/>
<rect class="bar" x="1249.3" y="1857.9" width="26" height="187.1"/>
<rect class="bar" x="1293.8" y="1859.6" width="26" height="185.4"/>
<rect class="bar" x="1338.2" y="1859.6" width="26" height="185.4"/>
<rect class="bar" x="1382.7" y="1864.5" width="26" height="180.5"/>
<rect class="bar" x="1427.2" y="1867.8" width="26" height="177.2"/>
<rect class="bar" x="1471.6" y="1872.8" width="26" height="172.2"/>
<rect class="bar" x="1516.1" y="1876.9" width="26" height="168.1"/>
<rect class="bar" x="1560.6" y="1877.7" width="26" height="167.3"/>
<rect class="bar" x="1605.1" y="1880.2" width="26" height="164.8"/>
<rect class="bar" x="1649.5" y="1914" width="26" height="131"/>
<rect class="bar" x="1694" y="1929.6" width="26" height="115.4"/>
<rect class="bar" x="1738.5" y="1931.3" width="26" height="113.7"/>
<rect class="bar" x="1783" y="1934.6" width="26" height="110.4"/>
</g>
<path class="ax" d="M484,1386V2045H1822"/>
<path class="ax" d="M506.3,2045v12M550.8,2045v12M595.2,2045v12M639.7,2045v12M684.2,2045v12M728.7,2045v12M773.1,2045v12M817.6,2045v12M862.1,2045v12M906.5,2045v12M951,2045v12M995.5,2045v12M1039.9,2045v12M1084.4,2045v12M1128.9,2045v12M1173.4,2045v12M1217.8,2045v12M1262.3,2045v12M1306.8,2045v12M1351.2,2045v12M1395.7,2045v12M1440.2,2045v12M1484.6,2045v12M1529.1,2045v12M1573.6,2045v12M1618.1,2045v12M1662.5,2045v12M1707,2045v12M1751.5,2045v12M1796,2045v12"/>
<g id="xlabels">
<text class="cl" transform="translate(511.3,2070) rotate(-45)">ErbB signaling</text>
<text class="cl" transform="translate(555.8,2070) rotate(-45)">p53 signaling</text>
<text class="cl" transform="translate(600.2,2070) rotate(-45)">14-3-3-Mediated signaling</text>
<text class="cl" transform="translate(644.7,2070) rotate(-45)">PTEN signaling</text>
<text class="cl" transform="translate(689.2,2070) rotate(-45)">HMGB1 signaling</text>
<text class="cl" transform="translate(733.7,2070) rotate(-45)">IGF-1 signaling</text>
<text class="cl" transform="translate(778.1,2070) rotate(-45)">Rac signaling</text>
<text class="cl" transform="translate(822.6,2070) rotate(-45)">PI3K/AKT signaling</text>
<text class="cl" transform="translate(867.1,2070) rotate(-45)">EGF signaling</text>
<text class="cl" transform="translate(911.5,2070) rotate(-45)">Epithelial adherens junction S</text>
<text class="cl" transform="translate(956,2070) rotate(-45)">ILK signaling</text>
<text class="cl" transform="translate(1000.5,2070) rotate(-45)">TGF-β signaling</text>
<text class="cl" transform="translate(1044.9,2070) rotate(-45)">GADD45 signaling</text>
<text class="cl" transform="translate(1089.4,2070) rotate(-45)">VEGF signaling</text>
<text class="cl" transform="translate(1133.9,2070) rotate(-45)">HGF signaling</text>
<text class="cl" transform="translate(1178.4,2070) rotate(-45)">p70S6k signaling</text>
<text class="cl" transform="translate(1222.8,2070) rotate(-45)">TNFR1 signaling</text>
<text class="cl" transform="translate(1267.3,2070) rotate(-45)">NF-κB signaling</text>
<text class="cl" transform="translate(1311.8,2070) rotate(-45)">CNTF signaling</text>
<text class="cl" transform="translate(1356.2,2070) rotate(-45)">Wnt/β-catenin signaling</text>
<text class="cl" transform="translate(1400.7,2070) rotate(-45)">ErbB2-ErbB3 signaling</text>
<text class="cl" transform="translate(1445.2,2070) rotate(-45)">ATM signaling</text>
<text class="cl" transform="translate(1489.6,2070) rotate(-45)">ERK5 signaling</text>
<text class="cl" transform="translate(1534.1,2070) rotate(-45)">JAK/Stat signaling</text>
<text class="cl" transform="translate(1578.6,2070) rotate(-45)">Chemokine signaling</text>
<text class="cl" transform="translate(1623.1,2070) rotate(-45)">PEDF signaling</text>
<text class="cl" transform="translate(1667.5,2070) rotate(-45)">p38 MAPK signaling</text>
<text class="cl" transform="translate(1712,2070) rotate(-45)">DNA damage-induced 14-3-3σ si</text>
<text class="cl" transform="translate(1756.5,2070) rotate(-45)">DNA methylation and transcript</text>
<text class="cl" transform="translate(1801,2070) rotate(-45)">Cdc42 signaling</text>
</g>
</g>
</svg>
